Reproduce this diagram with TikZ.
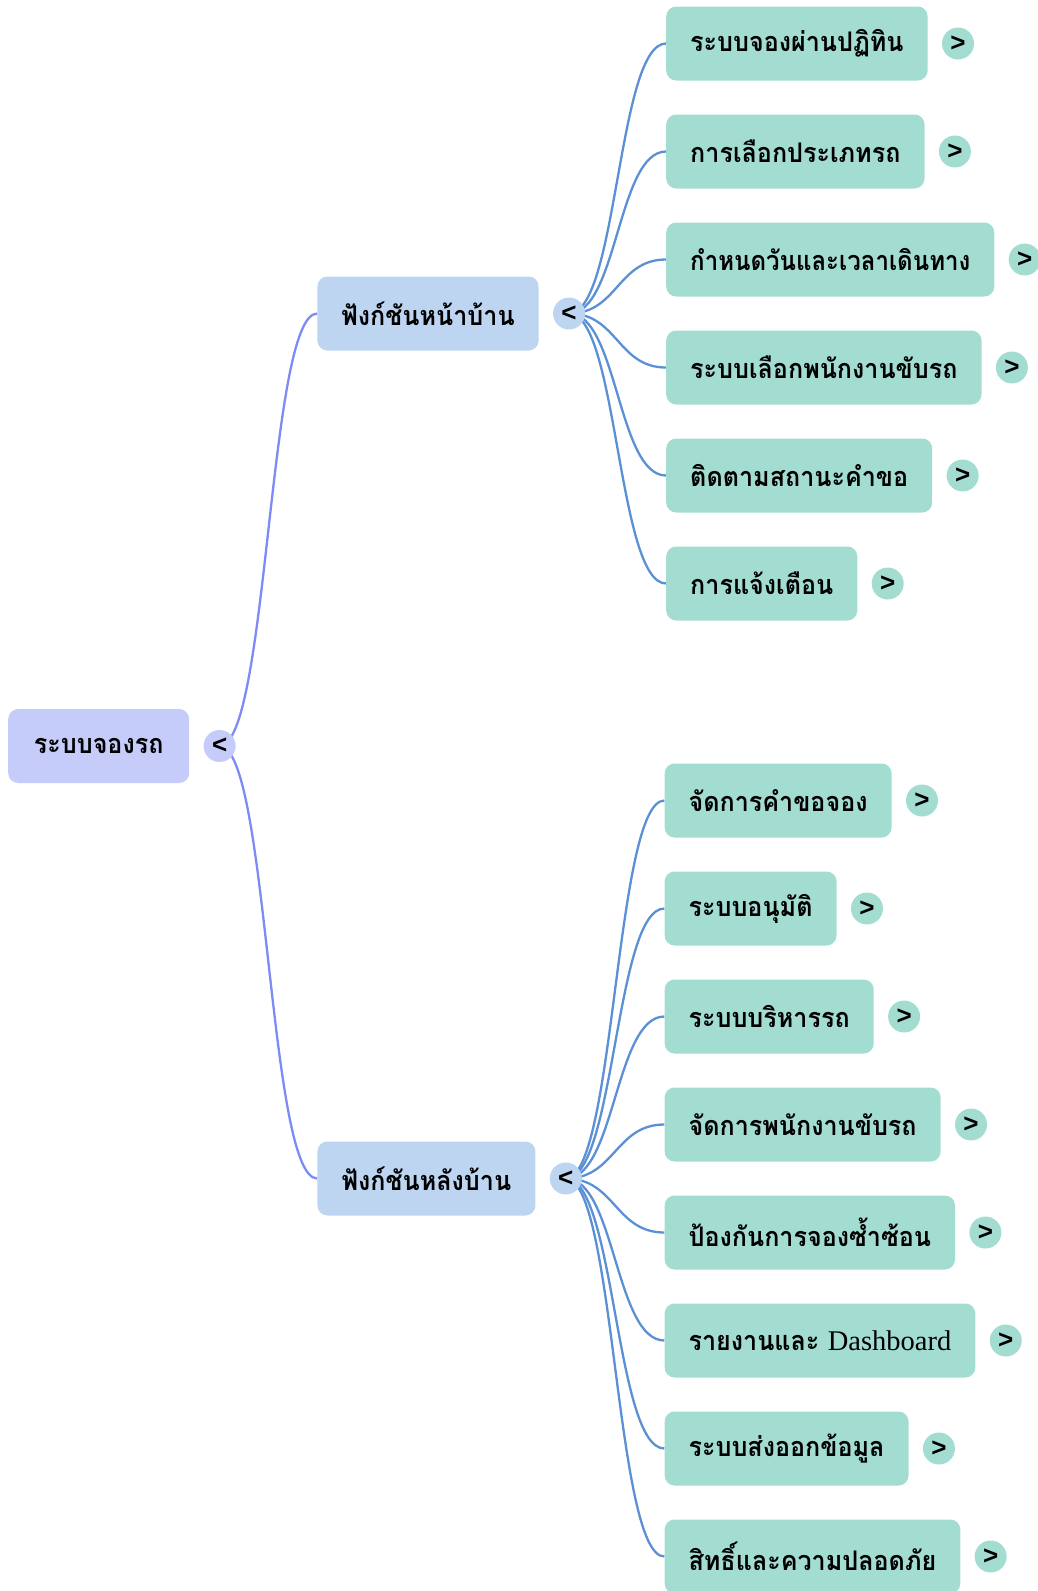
\documentclass[tikz,border=0pt]{standalone}
\usepackage{fontspec}
\setmainfont{Liberation Serif}
\newfontfamily\thaifont[Script=Thai, FakeStretch=0.93]{Loma}
\newfontfamily\togfont{Liberation Sans}
\usetikzlibrary{backgrounds,calc}

\definecolor{rootfill}{HTML}{C5CCFA}
\definecolor{rootlink}{HTML}{7C8CF4}
\definecolor{brfill}{HTML}{BDD5F0}
\definecolor{brlink}{HTML}{5C90D4}
\definecolor{leaffill}{HTML}{A3DDD2}

\tikzset{
  box/.style={anchor=west, rounded corners=10pt, minimum height=74pt,
    inner xsep=24pt, inner ysep=0pt, font=\thaifont\bfseries\fontsize{27}{30}\selectfont},
  tog/.style={circle, inner sep=0pt, minimum size=32pt,
    font=\togfont\bfseries\fontsize{26}{26}\selectfont},
  topbox/.style={box, fill=rootfill, minimum width=181pt,
    label={[tog, fill=rootfill, name=rt-tg]right:<}},
  midbox/.style={box, fill=brfill, minimum width=218pt},
  leaf/.style={box, fill=leaffill, label={[tog, fill=leaffill]right:>}},
  narrow/.style={font=\thaifont\bfseries\fontsize{27}{30}\selectfont\addfontfeature{FakeStretch=0.89}},
  link/.style={line width=2.3pt, to path={let \p1=(\tikztostart), \p2=(\tikztotarget) in
    .. controls ({0.5*\x1+0.5*\x2},\y1) and ({0.5*\x1+0.5*\x2},\y2) .. (\tikztotarget)}},
}
\newcommand\latn[1]{{\rmfamily\mdseries\fontsize{28.5}{30}\selectfont #1}}

\begin{document}
\begin{tikzpicture}[grow'=right, label distance=14pt,
level 1/.style={level distance=218.5pt, sibling distance=865pt},
level 2/.style={level distance=238pt, sibling distance=108pt},
edge from parent/.style={draw=none}]
\useasboundingbox (0,0) rectangle (1038pt,-1591pt);
\node[topbox] (rt) at (8pt,-746pt) {ระบบจองรถ}
    child { node[midbox, label={[tog, fill=brfill, name=fr-tg]right:<}] (fr) {ฟังก์ชันหน้าบ้าน}
        child { node[leaf] (fr-1) {ระบบจองผ่านปฏิทิน} }
        child { node[leaf] (fr-2) {การเลือกประเภทรถ} }
        child { node[leaf, narrow] (fr-3) {กำหนดวันและเวลาเดินทาง} }
        child { node[leaf] (fr-4) {ระบบเลือกพนักงานขับรถ} }
        child { node[leaf] (fr-5) {ติดตามสถานะคำขอ} }
        child { node[leaf] (fr-6) {การแจ้งเตือน} }
    }
    child { node[midbox, label={[tog, fill=brfill, name=bk-tg]right:<}] (bk) {ฟังก์ชันหลังบ้าน}
        child { node[leaf] (bk-1) {จัดการคำขอจอง} }
        child { node[leaf] (bk-2) {ระบบอนุมัติ} }
        child { node[leaf] (bk-3) {ระบบบริหารรถ} }
        child { node[leaf] (bk-4) {จัดการพนักงานขับรถ} }
        child { node[leaf] (bk-5) {ป้องกันการจองซ้ำซ้อน} }
        child { node[leaf] (bk-6) {รายงานและ \latn{Dashboard}} }
        child { node[leaf] (bk-7) {ระบบส่งออกข้อมูล} }
        child { node[leaf] (bk-8) {สิทธิ์และความปลอดภัย} }
    };
% links sit under the toggles
\begin{scope}[on background layer]
\draw[link, rootlink] (rt-tg.center) to (fr.west);
\draw[link, rootlink] (rt-tg.center) to (bk.west);
\foreach \i in {1,...,6} \draw[link, brlink] (fr-tg.center) to (fr-\i.west);
\foreach \i in {1,...,8} \draw[link, brlink] (bk-tg.center) to (bk-\i.west);
\end{scope}
\end{tikzpicture}
\end{document}
